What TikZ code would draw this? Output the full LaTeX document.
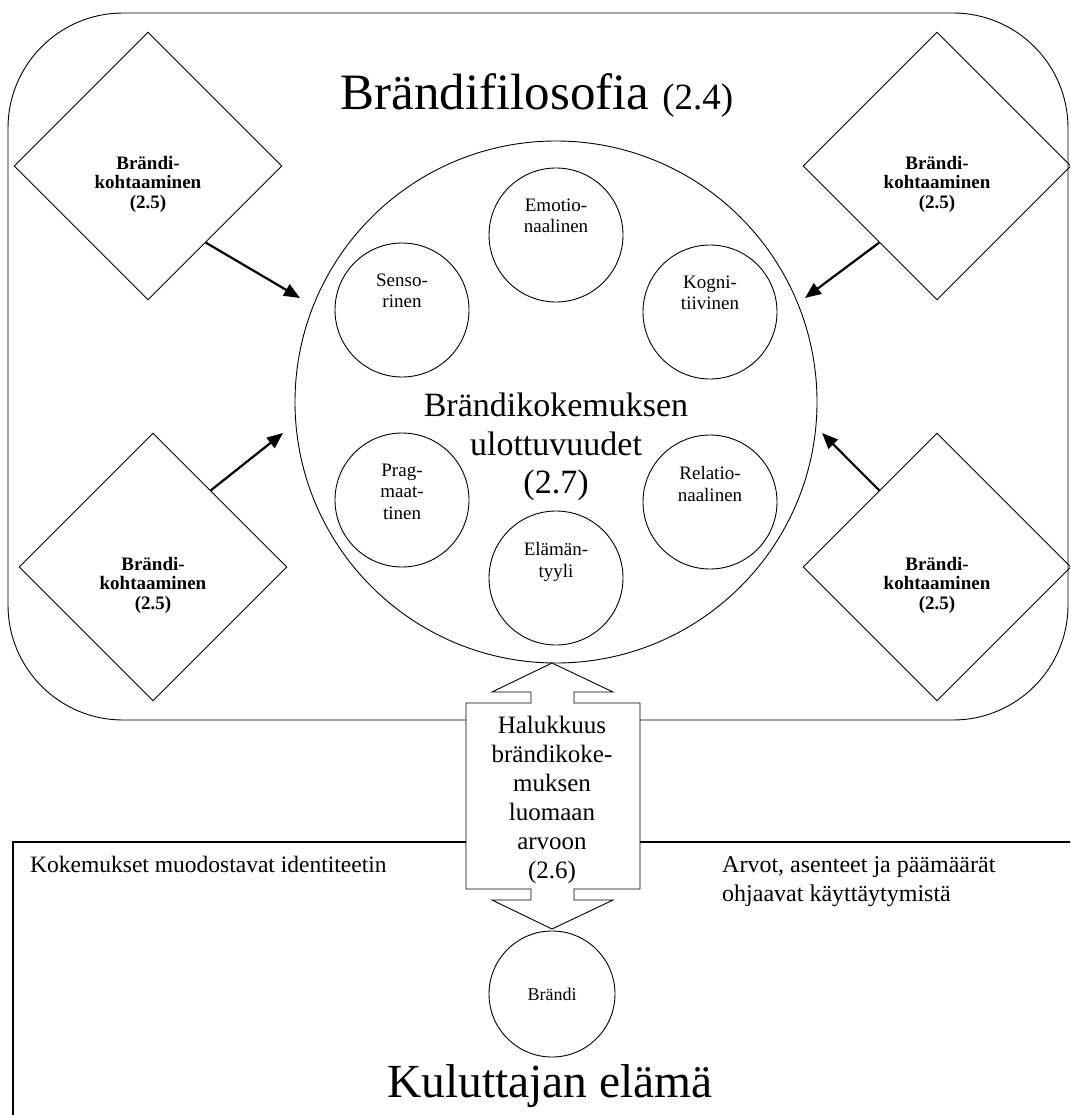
\documentclass[tikz,border=0pt]{standalone}
\usepackage{fontspec}
\setmainfont{Liberation Serif}
\usetikzlibrary{shapes.geometric,arrows.meta,calc}

\begin{document}
\begin{tikzpicture}[x=1pt,y=-1pt,
  outline/.style={draw,line width=0.9pt},
  dimcircle/.style={circle,draw,line width=0.9pt,minimum size=134pt,inner sep=0pt},
  dimtext/.style={align=center,inner sep=0pt,font=\fontsize{19}{21.5}\selectfont},
  meeting/.style={diamond,draw,line width=0.9pt,minimum width=268pt,minimum height=268pt,inner sep=0pt},
  meetingtext/.style={align=center,inner sep=0pt,font=\bfseries\fontsize{19}{19.5}\selectfont},
  impact/.style={line width=2.2pt,-{Triangle[length=16pt,width=13pt]}},
  plain/.style={inner sep=0pt},
]
\clip (0,0) rectangle (1070,1115);

% brand philosophy frame
\draw[outline,rounded corners=115pt] (8,13) rectangle (1068,720);
\node[plain,anchor=base] (philo) at (537,110)
  {\fontsize{51}{56}\selectfont Brändifilosofia \fontsize{37}{40}\selectfont(2.4)};

% consumer life region
\draw[line width=1.4pt] (13,1120) -- (13,842) -- (1075,842);
\node[plain,anchor=base west,font=\fontsize{23.5}{29}\selectfont] (identity) at (30,872)
  {Kokemukset muodostavat identiteetin};
\node[plain,anchor=north west,align=left,font=\fontsize{24}{29}\selectfont] (values) at (722,856)
  {Arvot, asenteet ja päämäärät\\ohjaavat käyttäytymistä};
\node[plain,anchor=base,font=\fontsize{47.5}{52}\selectfont] (life) at (550,1097) {Kuluttajan elämä};

% dimensions of brand experience
\node[circle,draw,line width=0.9pt,minimum size=522pt,inner sep=0pt] (big) at (556,402) {};
\node[plain,anchor=north,align=center,font=\fontsize{34}{38.5}\selectfont] (bigtext) at (556,393)
  {Brändikokemuksen\\ulottuvuudet\\(2.7)};

\node[dimcircle] (emo) at (556,235) {};
\node[dimcircle] (sen) at (402,310) {};
\node[dimcircle] (kog) at (710,312) {};
\node[dimcircle] (pra) at (402,500) {};
\node[dimcircle] (rel) at (710,502) {};
\node[dimcircle] (ela) at (556,578) {};
\node[dimtext,anchor=north] (emot) at ([yshift=-31pt]emo.north) {Emotio-\\naalinen};
\node[dimtext,anchor=north] (sent) at ([yshift=-31pt]sen.north) {Senso-\\rinen};
\node[dimtext,anchor=north] (kogt) at ([yshift=-31pt]kog.north) {Kogni-\\tiivinen};
\node[dimtext,anchor=north] (prat) at ([yshift=-31pt]pra.north) {Prag-\\maat-\\tinen};
\node[dimtext,anchor=north] (relt) at ([yshift=-32pt]rel.north) {Relatio-\\naalinen};
\node[dimtext,anchor=north] (elat) at ([yshift=-32pt]ela.north) {Elämän-\\tyyli};

% brand encounters
\node[meeting] (dtl) at (148,166) {};
\node[meeting] (dtr) at (937,166) {};
\node[meeting] (dbl) at (153,567) {};
\node[meeting] (dbr) at (937,567) {};
\foreach \d in {dtl,dtr,dbl,dbr}
  \node[meetingtext,anchor=north] (\d t) at ([yshift=10pt]\d.center)
    {Brändi-\\kohtaaminen\\(2.5)};

\coordinate (tiptl) at (300,298);
\coordinate (tiptr) at (805,298);
\coordinate (tipbl) at (283,433);
\coordinate (tipbr) at (822,433);
\draw[impact] ($(dtl.east)!0.57!(dtl.south)$) -- (tiptl);
\draw[impact] ($(dtr.west)!0.57!(dtr.south)$) -- (tiptr);
\draw[impact] ($(dbl.east)!0.57!(dbl.north)$) -- (tipbl);
\draw[impact] ($(dbr.west)!0.57!(dbr.north)$) -- (tipbr);

% willingness: double-headed block arrow
\draw[outline,fill=white]
  (552,663) -- (613,692) -- (574,692) -- (574,703) -- (640,703) -- (640,889)
  -- (574,889) -- (574,900) -- (613,900) -- (552,929) -- (492,900) -- (531,900)
  -- (531,889) -- (466,889) -- (466,703) -- (531,703) -- (531,692) -- (492,692) -- cycle;
\node[plain,anchor=north,align=center,font=\fontsize{25}{29}\selectfont] (want) at (552,716)
  {Halukkuus\\brändikoke-\\muksen\\luomaan\\arvoon\\(2.6)};

% the brand
\node[circle,draw,line width=0.9pt,minimum size=126pt,inner sep=0pt,
  font=\fontsize{18}{20}\selectfont] (brand) at (552,994) {Brändi};
\end{tikzpicture}
\end{document}
